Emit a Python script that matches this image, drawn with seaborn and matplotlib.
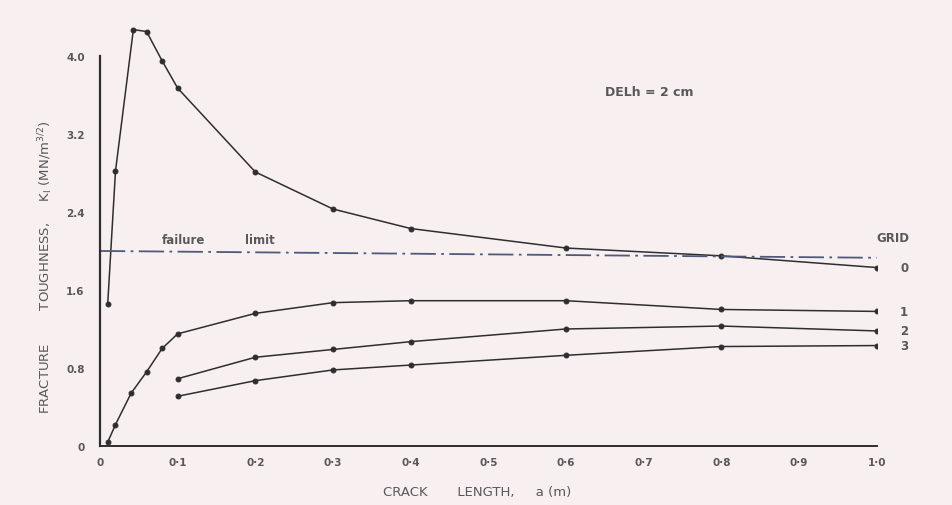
import numpy as np
import pandas as pd
import seaborn as sns
import matplotlib.pyplot as plt

# values
grid0_x = [0.01, 0.02, 0.043, 0.06, 0.08, 0.10, 0.20, 0.30, 0.40, 0.60, 0.80, 1.00]
grid0_y = [1.46, 2.82, 4.27, 4.25, 3.95, 3.67, 2.81, 2.43, 2.23, 2.03, 1.95, 1.83]

grid1_x = [0.01, 0.02, 0.04, 0.06, 0.08, 0.10, 0.20, 0.30, 0.40, 0.60, 0.80, 1.00]
grid1_y = [0.04, 0.22, 0.54, 0.76, 1.00, 1.15, 1.36, 1.47, 1.49, 1.49, 1.40, 1.38]

grid2_x = [0.10, 0.20, 0.30, 0.40, 0.60, 0.80, 1.00]
grid2_y = [0.69, 0.91, 0.99, 1.07, 1.20, 1.23, 1.18]

grid3_x = [0.10, 0.20, 0.30, 0.40, 0.60, 0.80, 1.00]
grid3_y = [0.51, 0.67, 0.78, 0.83, 0.93, 1.02, 1.03]

failure_x = [0.0, 1.0]
failure_y = [2.00, 1.93]

grid_names = ['0', '1', '2', '3']
x_ticks = [0, 0.1, 0.2, 0.3, 0.4, 0.5, 0.6, 0.7, 0.8, 0.9, 1.0]
x_tick_labels = ['0', '0·1', '0·2', '0·3', '0·4', '0·5', '0·6', '0·7', '0·8', '0·9', '1·0']
y_ticks = [0, 0.8, 1.6, 2.4, 3.2, 4.0]
y_tick_labels = ['0', '0.8', '1.6', '2.4', '3.2', '4.0']

sns.set_style('white')
plt.rcParams['font.family'] = ['DejaVu Sans']

ink = '#2e2e30'
paper = '#f8eff1'
txt = '#58585a'
txt_kw = dict(color=txt, fontweight='bold')

df = pd.concat([
    pd.DataFrame({'a': x, 'K': y, 'grid': g})
    for g, x, y in zip(grid_names,
                       [grid0_x, grid1_x, grid2_x, grid3_x],
                       [grid0_y, grid1_y, grid2_y, grid3_y])
])

fig = plt.figure(figsize=(9.52, 5.06), dpi=100, facecolor=paper)
ax = fig.add_axes([0.105, 0.1166, 0.816, 0.848])
ax.set_facecolor(paper)

sns.lineplot(data=df, x='a', y='K', units='grid', estimator=None, sort=False,
             color=ink, lw=1.1, marker='o', markersize=3.5,
             markeredgecolor=ink, ax=ax)

sns.lineplot(x=failure_x, y=failure_y, color='#4f5a78', lw=1.3,
             linestyle=(0, (14, 3, 1.5, 3)), ax=ax)

ax.set_xlim(0, 1.0)
ax.set_ylim(0, 4.4)
ax.set_xticks(x_ticks)
ax.set_xticklabels(x_tick_labels, fontsize=7.5, **txt_kw)
ax.set_yticks(y_ticks)
ax.set_yticklabels(y_tick_labels, fontsize=7.5, **txt_kw)
ax.tick_params(axis='x', direction='in', length=5, width=1, color=ink, pad=8)
ax.tick_params(axis='y', direction='out', length=5, width=1, color=ink, pad=6)

for s in ['top', 'right']:
    ax.spines[s].set_visible(False)
ax.spines['left'].set_bounds(0, 4.0)
ax.spines['left'].set_color(ink)
ax.spines['left'].set_linewidth(1.6)
ax.spines['bottom'].set_color(ink)
ax.spines['bottom'].set_linewidth(1.4)

ax.set_xlabel('CRACK       LENGTH,     a (m)', fontsize=9.5, color=txt)
ax.xaxis.set_label_coords(0.485, -0.092)
ax.set_ylabel(r'FRACTURE        TOUGHNESS,     K$_\mathrm{I}$ (MN/m$^{3/2}$)',
              fontsize=9.5, color=txt)
ax.yaxis.set_label_coords(-0.058, 0.42)

ax.text(0.08, 2.08, 'failure', fontsize=8.5, **txt_kw)
ax.text(0.187, 2.08, 'limit', fontsize=8.5, **txt_kw)
ax.text(0.65, 3.6, 'DELh = 2 cm', fontsize=9, **txt_kw)
ax.text(1.0, 2.1, 'GRID', fontsize=8.5, clip_on=False, **txt_kw)

label_y = [grid0_y[-1], grid1_y[-1], grid2_y[-1], grid3_y[-1]]
for name, yv in zip(grid_names, label_y):
    ax.text(1.03, yv, name, fontsize=8.5, va='center', clip_on=False, **txt_kw)

fig.savefig('out.png', dpi=100, facecolor=paper)
